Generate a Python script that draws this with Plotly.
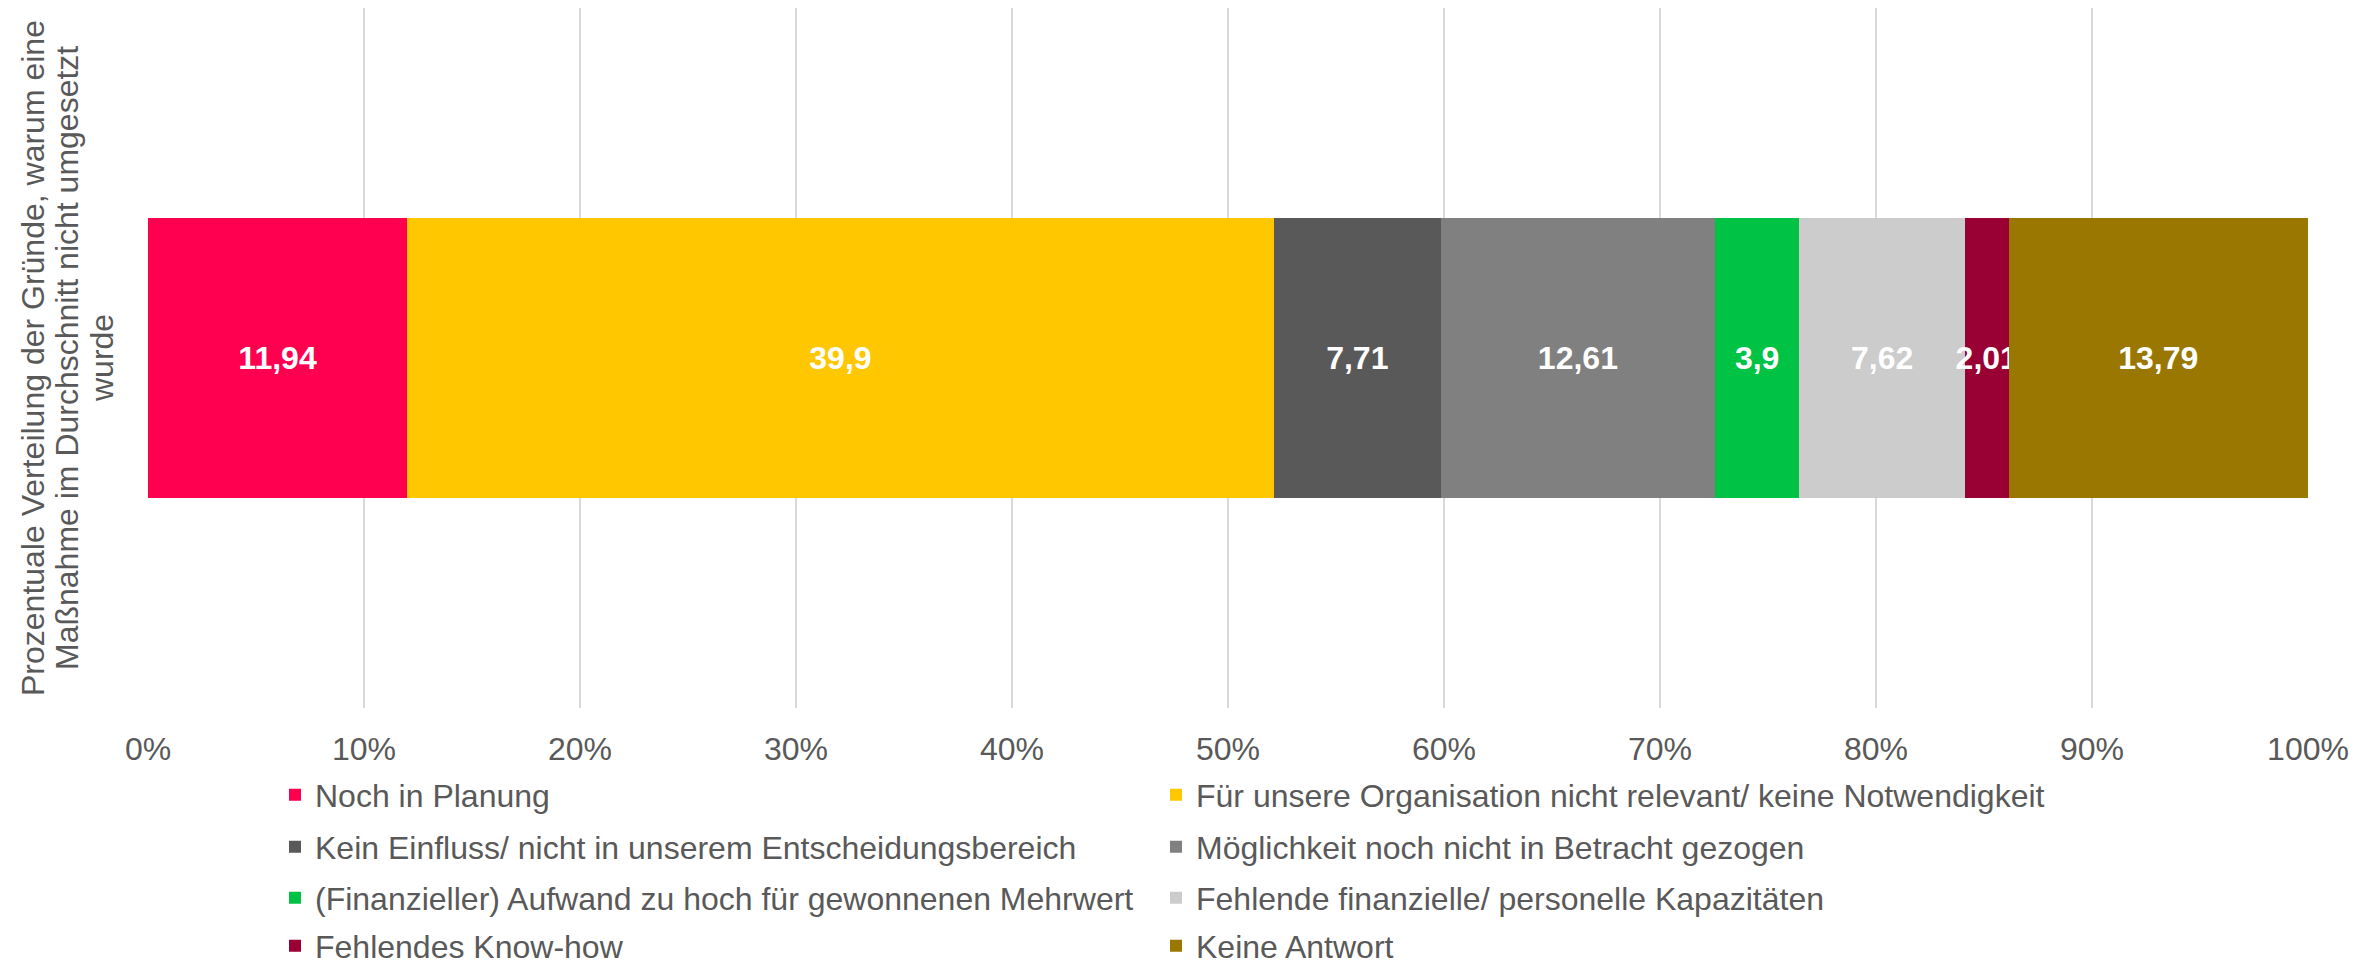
import plotly.graph_objects as go

category = ["Prozentuale Verteilung"]
series_names = [
    "Noch in Planung",
    "Für unsere Organisation nicht relevant/ keine Notwendigkeit",
    "Kein Einfluss/ nicht in unserem Entscheidungsbereich",
    "Möglichkeit noch nicht in Betracht gezogen",
    "(Finanzieller) Aufwand zu hoch für gewonnenen Mehrwert",
    "Fehlende finanzielle/ personelle Kapazitäten",
    "Fehlendes Know-how",
    "Keine Antwort",
]
series_values = [11.94, 39.9, 7.71, 12.61, 3.9, 7.62, 2.01, 13.79]
series_colors = ["#FF0050", "#FFC700", "#595959", "#808080", "#00C244", "#CCCCCC", "#990033", "#997700"]
tick_vals = [0, 10, 20, 30, 40, 50, 60, 70, 80, 90, 100]
tick_text = ["0%", "10%", "20%", "30%", "40%", "50%", "60%", "70%", "80%", "90%", "100%"]
y_title_lines = [
    "Prozentuale Verteilung der Gründe, warum eine",
    "Maßnahme im Durchschnitt nicht umgesetzt",
    "wurde",
]

FONT = "Liberation Sans, Arial, sans-serif"
GREY = "#595959"

W, H = 2377, 965
ml, mr, mt, mb = 148, 69, 8, 257
pw = W - ml - mr
ph = H - mt - mb

row_centers = [795, 847, 898, 946]
col_x = [275, 1156]

fig = go.Figure()
legend_layouts = {}
for i, (name, val, col) in enumerate(zip(series_names, series_values, series_colors)):
    lid = "legend" if i == 0 else f"legend{i + 1}"
    fig.add_trace(go.Bar(
        y=category, x=[val], name=name, orientation="h",
        marker=dict(color=col, line=dict(width=0)),
        text=[str(val).replace(".", ",")],
        textposition="inside", insidetextanchor="middle", textangle=0,
        textfont=dict(family=FONT, size=32, color="white", weight="bold"),
        legend=lid,
    ))
    legend_layouts[lid] = dict(
        orientation="v", x=(col_x[i % 2] - ml) / pw, xanchor="left",
        y=1 - (row_centers[i // 2] - mt) / ph, yanchor="middle",
        font=dict(family=FONT, size=32, color=GREY),
        bgcolor="rgba(0,0,0,0)",
    )

line_x = [33, 67, 102]
annotations = [
    dict(text=t, textangle=-90, xref="paper", yref="paper",
         x=-(ml - lx) / pw, y=0.5, xanchor="center", yanchor="middle",
         showarrow=False, font=dict(family=FONT, size=32, color=GREY))
    for t, lx in zip(y_title_lines, line_x)
]

fig.update_layout(
    width=W, height=H,
    barmode="stack", barnorm="percent", bargap=0.6,
    plot_bgcolor="white", paper_bgcolor="white",
    margin=dict(l=ml, r=mr, t=mt, b=mb, autoexpand=False),
    font=dict(family=FONT, color=GREY, size=32),
    uniformtext=dict(minsize=32, mode="show"),
    xaxis=dict(range=[0, 100], tickvals=tick_vals, ticktext=tick_text,
               showgrid=True, gridcolor="#D9D9D9", gridwidth=2,
               zeroline=False, showline=False, ticks="",
               ticklabelstandoff=19,
               tickfont=dict(family=FONT, size=32, color=GREY)),
    yaxis=dict(showticklabels=False, showgrid=False, zeroline=False, showline=False, ticks=""),
    showlegend=True,
    annotations=annotations,
    **legend_layouts,
)

fig.write_html("out.html", config={"displayModeBar": False},
               post_script="document.body.style.margin='0';")
